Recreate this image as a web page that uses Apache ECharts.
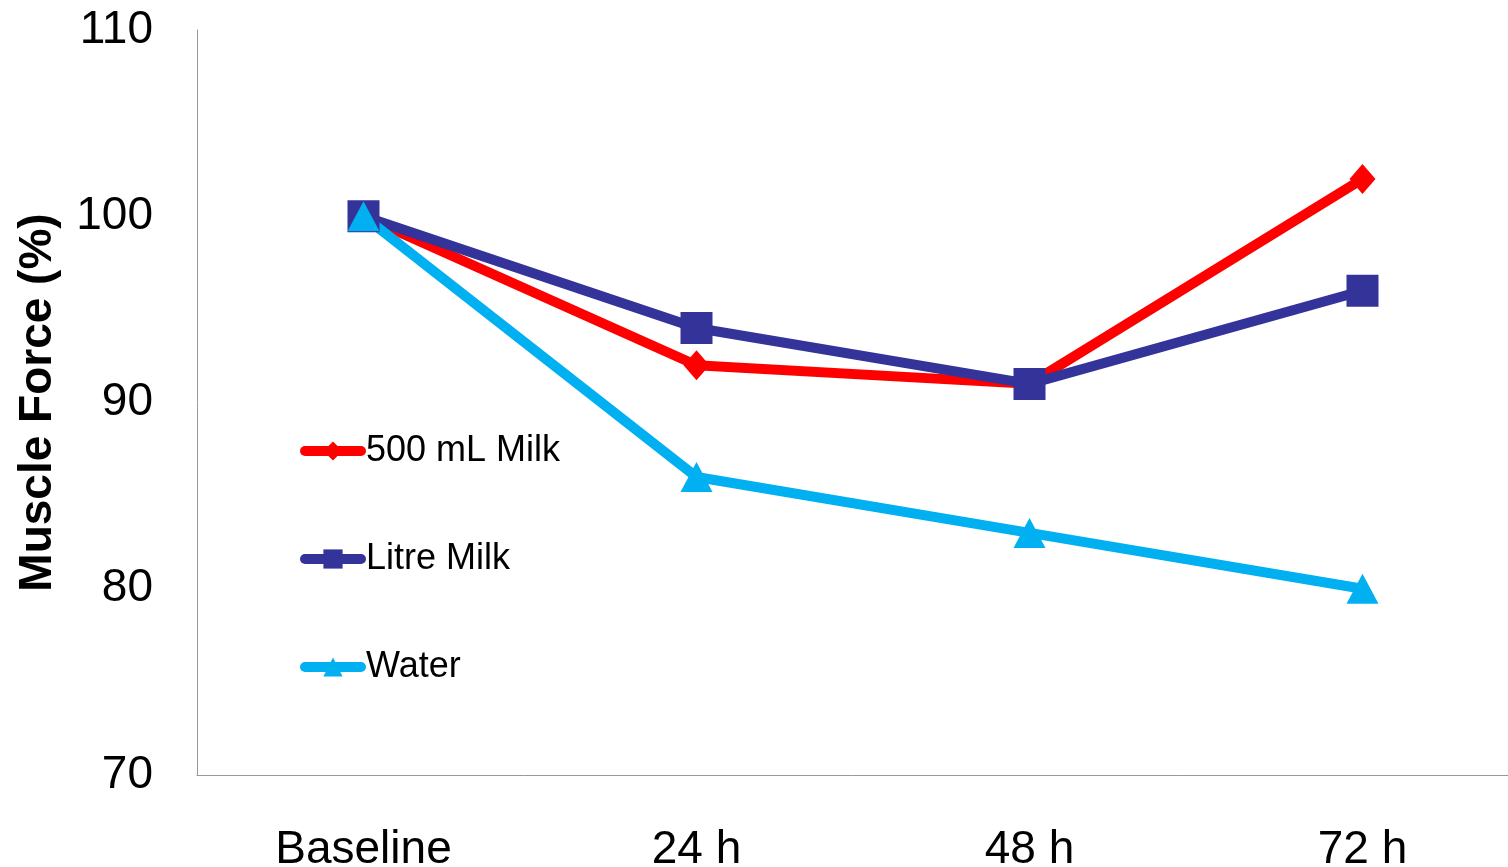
<!DOCTYPE html>
<html>
<head>
<meta charset="utf-8">
<script src="https://cdn.jsdelivr.net/npm/echarts@6/dist/echarts.min.js"></script>
<style>html,body{margin:0;padding:0;background:#fff}#c{width:1508px;height:867px}</style>
</head>
<body>
<div id="c"></div>
<script>
const categories = ['Baseline', '24 h', '48 h', '72 h'];
const milk500 = [100, 92, 91, 102];
const litreMilk = [100, 94, 91, 96];
const water = [100, 86, 83, 80];
const seriesNames = ['500 mL Milk', 'Litre Milk', 'Water'];
const yTicks = [70, 80, 90, 100, 110];

const chart = echarts.init(document.getElementById('c'));
const font = 'Liberation Sans, Arial, sans-serif';
chart.setOption({
  animation: false,
  backgroundColor: '#fff',
  grid: { left: 197, right: -21, top: 30, bottom: 92, outerBoundsMode: 'none', containLabel: false },
  legend: {
    orient: 'vertical',
    left: 295,
    top: 428,
    itemWidth: 56,
    itemHeight: 24,
    itemGap: 72,
    lineStyle: { width: 10, cap: 'round' },
    textStyle: { fontFamily: font, fontSize: 36, color: '#000' },
    data: seriesNames
  },
  xAxis: {
    type: 'category',
    data: categories,
    boundaryGap: true,
    axisLine: { lineStyle: { color: '#999', width: 1 } },
    axisTick: { show: false },
    axisLabel: { fontFamily: font, fontSize: 46, color: '#000', margin: 52 }
  },
  yAxis: {
    type: 'value',
    min: yTicks[0],
    max: yTicks[yTicks.length - 1],
    interval: 10,
    name: 'Muscle Force (%)',
    nameLocation: 'middle',
    nameGap: 136,
    nameTextStyle: { fontFamily: font, fontSize: 46, fontWeight: 'bold', color: '#000' },
    axisLine: { show: true, lineStyle: { color: '#999', width: 1 } },
    axisTick: { show: false },
    splitLine: { show: false },
    axisLabel: { fontFamily: font, fontSize: 46, color: '#000', margin: 44 }
  },
  series: [
    {
      name: seriesNames[0], type: 'line', data: milk500,
      symbol: 'diamond', symbolSize: [26, 30],
      lineStyle: { color: '#FF0000', width: 10 },
      itemStyle: { color: '#FF0000' }
    },
    {
      name: seriesNames[1], type: 'line', data: litreMilk,
      symbol: 'rect', symbolSize: 32,
      lineStyle: { color: '#333399', width: 10 },
      itemStyle: { color: '#333399' }
    },
    {
      name: seriesNames[2], type: 'line', data: water,
      symbol: 'triangle', symbolSize: [32, 30],
      lineStyle: { color: '#00B0F0', width: 10 },
      itemStyle: { color: '#00B0F0' }
    }
  ]
});
</script>
</body>
</html>
